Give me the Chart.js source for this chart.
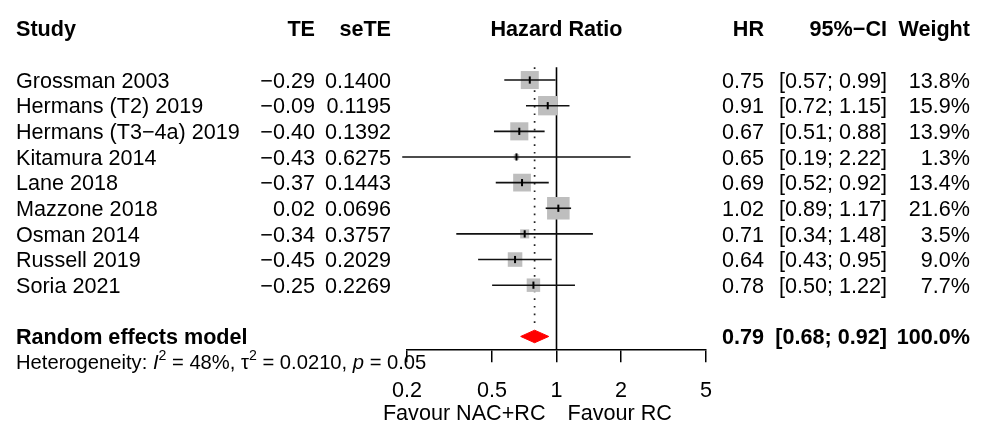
<!DOCTYPE html>
<html>
<head>
<meta charset="utf-8">
<script src="https://cdn.jsdelivr.net/npm/chart.js@4/dist/chart.umd.min.js"></script>
<style>
  html, body { margin: 0; padding: 0; background: #fff; }
  #wrap { width: 985px; height: 427px; position: relative; }
</style>
</head>
<body>
<div id="wrap"><canvas id="c"></canvas></div>
<script>
// ---------------- DATA ----------------
const studies = ["Grossman 2003", "Hermans (T2) 2019", "Hermans (T3\u22124a) 2019", "Kitamura 2014",
  "Lane 2018", "Mazzone 2018", "Osman 2014", "Russell 2019", "Soria 2021"];
const te = [-0.29, -0.09, -0.40, -0.43, -0.37, 0.02, -0.34, -0.45, -0.25];
const seTE = [0.1400, 0.1195, 0.1392, 0.6275, 0.1443, 0.0696, 0.3757, 0.2029, 0.2269];
const hr = [0.75, 0.91, 0.67, 0.65, 0.69, 1.02, 0.71, 0.64, 0.78];
const ciLow = [0.57, 0.72, 0.51, 0.19, 0.52, 0.89, 0.34, 0.43, 0.50];
const ciHigh = [0.99, 1.15, 0.88, 2.22, 0.92, 1.17, 1.48, 0.95, 1.22];
const weights = [13.8, 15.9, 13.9, 1.3, 13.4, 21.6, 3.5, 9.0, 7.7];
const pooled = [0.79, 0.68, 0.92];          // HR, lower, upper
const pooledWeight = 100.0;
const hetero = { I2: 48, tau2: "0.0210", p: "0.05" };
const xTicks = [0.2, 0.5, 1, 2, 5];
const favourLabels = ["Favour NAC+RC", "Favour RC"];

// ---------------- LAYOUT / STYLE ----------------
const FONT = '"Liberation Sans", Arial, Helvetica, sans-serif';
const FS = 21.6;
const HFS = 20.2;
const studyRow = i => i + 1;
const headerRow = -1, pooledRow = 11, heteroRow = 12, favourRow = 13.96;
const colStudyX = 16, colTE = 315, colSE = 391, colHR = 764, colCI = 887, colW = 970;
const sqK = 4.85;    // square side per sqrt(weight)

const fmtNum = (v, d) => v.toFixed(d).replace('-', '\u2212');

const datasets = [];
// reference line at HR = 1
datasets.push({ type: 'line', data: [{x: 1, y: 0.5}, {x: 1, y: 11.5}], borderColor: '#000',
  borderWidth: 1.6, pointRadius: 0, order: 10, clip: false });
// dotted line at pooled estimate
datasets.push({ type: 'line', data: [{x: pooled[0], y: 0.5}, {x: pooled[0], y: 10.62}], borderColor: '#222',
  borderWidth: 1.7, borderDash: [1.7, 6], pointRadius: 0, order: 9, clip: false });
// squares (weight)
datasets.push({ type: 'scatter', data: hr.map((v, i) => ({x: v, y: studyRow(i)})),
  pointStyle: 'rect', pointRadius: weights.map(w => sqK * Math.sqrt(w) / Math.SQRT2),
  backgroundColor: '#bebebe', borderWidth: 0, order: 8, clip: false });
// CI lines
studies.forEach((s, i) => {
  datasets.push({ type: 'line', data: [{x: ciLow[i], y: studyRow(i)}, {x: ciHigh[i], y: studyRow(i)}],
    borderColor: '#111', borderWidth: 1.6, pointRadius: 0, order: 5, clip: false });
});
// estimate ticks
datasets.push({ type: 'scatter', data: hr.map((v, i) => ({x: v, y: studyRow(i)})),
  pointStyle: 'line', rotation: 90, pointRadius: 3.6, borderColor: '#000', borderWidth: 2,
  backgroundColor: '#000', order: 1, clip: false });
// pooled diamond (upper half filled to lower half)
const diaIdx = datasets.length;
datasets.push({ type: 'line', data: [{x: pooled[1], y: pooledRow}, {x: pooled[0], y: pooledRow - 0.245}, {x: pooled[2], y: pooledRow}],
  borderColor: '#ff0000', borderWidth: 1, backgroundColor: '#ff0000', fill: diaIdx + 1, pointRadius: 0, tension: 0, order: 2 });
datasets.push({ type: 'line', data: [{x: pooled[1], y: pooledRow}, {x: pooled[0], y: pooledRow + 0.245}, {x: pooled[2], y: pooledRow}],
  borderColor: '#ff0000', borderWidth: 1, backgroundColor: '#ff0000', fill: false, pointRadius: 0, tension: 0, order: 2 });

const textPlugin = {
  id: 'forestText',
  afterDraw(chart) {
    const ctx = chart.ctx;
    const xs = chart.scales.x, ys = chart.scales.y;
    ctx.save();
    ctx.fillStyle = '#000';
    ctx.textBaseline = 'alphabetic';
    function txt(s, x, row, align, bold, size, italic) {
      size = size || FS;
      ctx.font = (italic ? 'italic ' : '') + (bold ? 'bold ' : '') + size + 'px ' + FONT;
      ctx.textAlign = align;
      ctx.fillText(s, x, ys.getPixelForValue(row) + 0.358 * size);
    }
    // header
    txt('Study', colStudyX, headerRow, 'left', true);
    txt('TE', colTE, headerRow, 'right', true);
    txt('seTE', colSE, headerRow, 'right', true);
    txt('Hazard Ratio', xs.getPixelForValue(1), headerRow, 'center', true);
    txt('HR', colHR, headerRow, 'right', true);
    txt('95%\u2212CI', colCI, headerRow, 'right', true);
    txt('Weight', colW, headerRow, 'right', true);
    // study rows
    studies.forEach((s, i) => {
      const r = studyRow(i);
      txt(s, colStudyX, r, 'left');
      txt(fmtNum(te[i], 2), colTE, r, 'right');
      txt(fmtNum(seTE[i], 4), colSE, r, 'right');
      txt(hr[i].toFixed(2), colHR, r, 'right');
      txt('[' + ciLow[i].toFixed(2) + '; ' + ciHigh[i].toFixed(2) + ']', colCI, r, 'right');
      txt(weights[i].toFixed(1) + '%', colW, r, 'right');
    });
    // pooled
    txt('Random effects model', colStudyX, pooledRow, 'left', true);
    txt(pooled[0].toFixed(2), colHR, pooledRow, 'right', true);
    txt('[' + pooled[1].toFixed(2) + '; ' + pooled[2].toFixed(2) + ']', colCI, pooledRow, 'right', true);
    txt(pooledWeight.toFixed(1) + '%', colW, pooledRow, 'right', true);
    // heterogeneity
    const parts = [
      {t: 'Heterogeneity: '}, {t: 'I', it: true}, {t: '2', sup: true},
      {t: ' = ' + hetero.I2 + '%, \u03c4'}, {t: '2', sup: true},
      {t: ' = ' + hetero.tau2 + ', '}, {t: 'p', it: true}, {t: ' = ' + hetero.p}
    ];
    let x = colStudyX;
    const base = ys.getPixelForValue(heteroRow) + 0.358 * HFS;
    ctx.textAlign = 'left';
    parts.forEach(p => {
      const size = p.sup ? HFS * 0.7 : HFS;
      ctx.font = (p.it ? 'italic ' : '') + size + 'px ' + FONT;
      const y = p.sup ? base - HFS * 0.45 : base;
      ctx.fillText(p.t, x, y);
      x += ctx.measureText(p.t).width;
    });
    // favour labels
    const x1 = xs.getPixelForValue(1);
    txt(favourLabels[0], x1 - 11, favourRow, 'right');
    txt(favourLabels[1], x1 + 11, favourRow, 'left');
    ctx.restore();
  }
};

new Chart(document.getElementById('c'), {
  data: { datasets },
  options: {
    responsive: true,
    maintainAspectRatio: false,
    devicePixelRatio: 1,
    animation: false,
    events: [],
    layout: { padding: { left: 407, right: 279, top: 11, bottom: 6.8 } },
    plugins: { legend: { display: false }, tooltip: { enabled: false }, title: { display: false } },
    scales: {
      x: {
        type: 'logarithmic', position: 'bottom', min: xTicks[0], max: xTicks[xTicks.length - 1],
        afterBuildTicks: (scale) => { scale.ticks = xTicks.map(v => ({ value: v })); },
        ticks: { color: '#000', font: { family: FONT, size: FS }, padding: 16, autoSkip: false, maxRotation: 0,
          callback: (v) => String(v) },
        grid: { display: true, drawOnChartArea: false, drawTicks: true, tickLength: 13, color: '#000', lineWidth: 1.5 },
        border: { display: true, color: '#000', width: 1.5 }
      },
      y: { type: 'linear', display: false, min: -1.5, max: 11.5, reverse: true }
    }
  },
  plugins: [textPlugin]
});
</script>
</body>
</html>
